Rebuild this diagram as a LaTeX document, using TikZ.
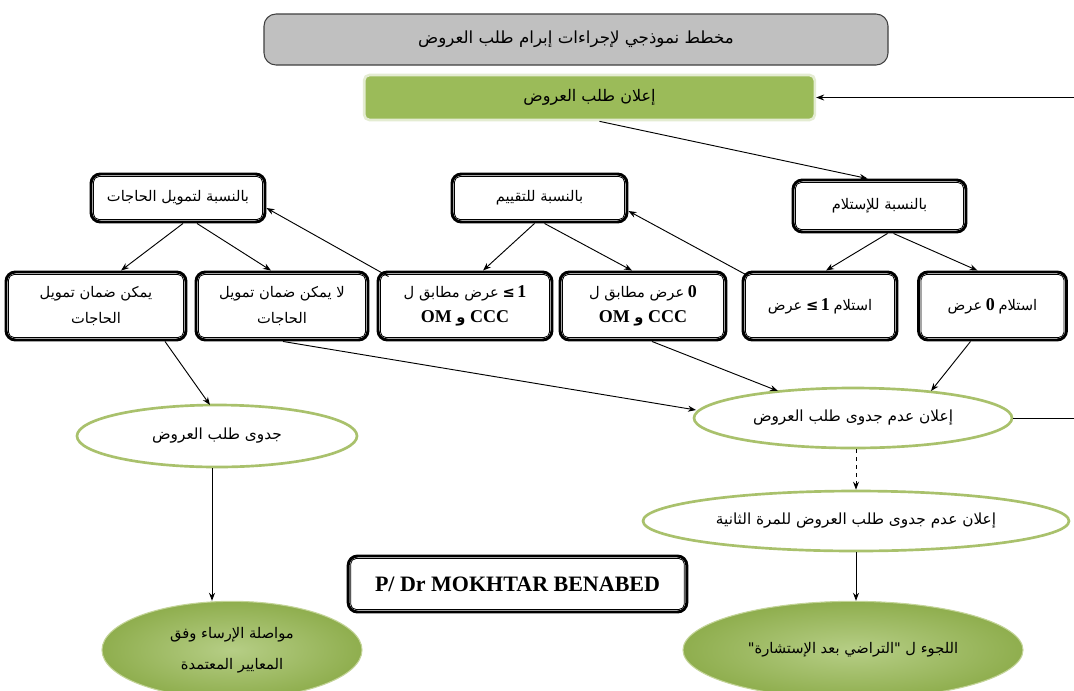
\documentclass[tikz,border=0pt]{standalone}
\usepackage{fontspec}
\setmainfont{Liberation Serif}
\newfontfamily\arabicfont[Script=Arabic]{DejaVu Sans}
\newfontfamily\symfont{DejaVu Sans}
\TeXXeTstate=1
\usetikzlibrary{shapes.geometric,arrows.meta,calc}
\newcommand\artxt[1]{{\arabicfont\beginR #1\endR}}
\definecolor{titlegray}{HTML}{C0C0C0}
\definecolor{titleline}{HTML}{404040}
\definecolor{boxgreen}{HTML}{9BBB59}
\definecolor{boxrim}{HTML}{E4ECD2}
\definecolor{ellgreen}{HTML}{A9C16C}
\definecolor{gin}{HTML}{B6CE86}
\definecolor{gout}{HTML}{8FAE4E}
\begin{document}
\begin{tikzpicture}[x=0.75pt,y=-0.75pt,
  dbox/.style={draw=black, line width=2.2pt, rounded corners=7pt, fill=white,
    align=center, inner sep=1pt, font=\fontsize{11}{19}\selectfont},
  ell/.style={ellipse, draw=ellgreen, line width=2pt, fill=white, inner sep=0pt,
    align=center, font=\fontsize{11.5}{14}\selectfont},
  gell/.style={ellipse, draw=ellgreen!70!white, line width=0.8pt, inner color=gin,
    outer color=gout, inner sep=0pt, align=center, font=\fontsize{11}{14}\selectfont},
  conn/.style={draw=black, line width=0.7pt, -{Stealth[length=6pt,width=4.5pt]}},
  plain/.style={draw=black, line width=0.7pt},
  inner/.style={line width=0.6pt, rounded corners=4pt}
]
\useasboundingbox (0,0) rectangle (1074,690);
\fill[white] (0,0) rectangle (1074,690);

% title and first step
\node[draw=titleline, line width=0.8pt, fill=titlegray, rounded corners=9pt,
  minimum width=468pt, minimum height=38.25pt, font=\fontsize{12.5}{14}\selectfont]
  (T) at (576,39.5) {\artxt{مخطط نموذجي لإجراءات إبرام طلب العروض}};
\node[draw=boxrim, line width=2pt, fill=boxgreen, rounded corners=4pt,
  minimum width=338pt, minimum height=33.75pt, font=\fontsize{12}{14}\selectfont]
  (G) at (589.5,97.5) {\artxt{إعلان طلب العروض}};

% row 1
\node[dbox, minimum width=130.5pt, minimum height=36pt] (A1) at (178,198)
  {\artxt{بالنسبة لتمويل الحاجات}};
\node[dbox, minimum width=131.25pt, minimum height=36pt] (A2) at (539.5,198)
  {\artxt{بالنسبة للتقييم}};
\node[dbox, minimum width=129.75pt, minimum height=39pt] (A3) at (879.5,206)
  {\artxt{بالنسبة للإستلام}};

% row 2
\node[dbox, minimum width=135pt, minimum height=51pt] (B1) at (96,306)
  {\artxt{يمكن ضمان تمويل}\\\artxt{الحاجات}};
\node[dbox, minimum width=129pt, minimum height=51pt] (B2) at (282,306)
  {\artxt{لا يمكن ضمان تمويل}\\\artxt{الحاجات}};
\node[dbox, minimum width=130.5pt, minimum height=51pt] (B3) at (465,306)
  {\artxt{عرض مطابق ل}\ {\symfont\bfseries ≤}\,{\fontsize{13.5}{19}\selectfont\bfseries 1}\\
   {\fontsize{13.5}{19}\selectfont\bfseries OM \artxt{\fontsize{11}{19}\selectfont و} CCC}};
\node[dbox, minimum width=124.5pt, minimum height=51pt] (B4) at (643,306)
  {\artxt{عرض مطابق ل}\ {\fontsize{13.5}{19}\selectfont\bfseries 0}\\
   {\fontsize{13.5}{19}\selectfont\bfseries OM \artxt{\fontsize{11}{19}\selectfont و} CCC}};
\node[dbox, minimum width=115.5pt, minimum height=51pt] (B5) at (820,306)
  {\artxt{عرض}\ {\symfont\bfseries ≤}\,{\fontsize{13.5}{19}\selectfont\bfseries 1}\ \artxt{استلام}};
\node[dbox, minimum width=111pt, minimum height=51pt] (B6) at (992.5,306)
  {\artxt{عرض}\ {\fontsize{13.5}{19}\selectfont\bfseries 0}\ \artxt{استلام}};

% ellipses
\node[ell, minimum width=210pt, minimum height=46.5pt] (E1) at (217,436)
  {\artxt{جدوى طلب العروض}};
\node[ell, minimum width=238.5pt, minimum height=45pt] (E2) at (853,418)
  {\artxt{إعلان عدم جدوى طلب العروض}};
\node[ell, minimum width=319.5pt, minimum height=45pt] (E3) at (856,521)
  {\artxt{إعلان عدم جدوى طلب العروض للمرة الثانية}};
\node[gell, minimum width=195pt, minimum height=73pt] (G1) at (232,650)
  {\artxt{مواصلة الإرساء وفق}\\[9pt]\artxt{المعايير المعتمدة}};
\node[gell, minimum width=255pt, minimum height=73pt] (G2) at (853,650)
  {\artxt{اللجوء ل "التراضي بعد الإستشارة"}};

% signature
\node[dbox, minimum width=254pt, minimum height=42pt, font=\fontsize{16.5}{18}\selectfont\bfseries]
  (S) at (517.5,584) {P/ Dr MOKHTAR BENABED};

\foreach \n in {A1,A2,A3,B1,B2,B3,B4,B5,B6,S}
  \draw[inner] ($(\n.north west)+(4,4)$) rectangle ($(\n.south east)+(-4,-4)$);

% free ends
\coordinate (R1) at (1074,97.5);
\coordinate (R2) at (1074,418);

% connectors
\draw[conn] (R1) -- (G.east);
\draw[conn] ($(G.south)+(10,0)$) -- ($(A3.north)+(-12,0)$);
\draw[conn] ($(A3.south)+(8,0)$) -- ($(B5.north)+(6,0)$);
\draw[conn] ($(A3.south)+(14,0)$) -- ($(B6.north)+(-15,0)$);
\draw[conn] ($(A2.south)+(-5,0)$) -- ($(B3.north)+(18,0)$);
\draw[conn] ($(A2.south)+(5,0)$) -- ($(B4.north)+(-11,0)$);
\draw[conn] ($(A1.south)+(5,0)$) -- ($(B1.north)+(25,0)$);
\draw[conn] ($(A1.south)+(19,0)$) -- ($(B2.north)+(-11,0)$);
\draw[conn] ($(B3.north west)+(12,6)$) -- ($(A1.east)+(0,10)$);
\draw[conn] ($(B5.north west)+(6,5)$) -- ($(A2.east)+(0,13)$);
\draw[conn] ($(B2.south)+(1,0)$) -- ($(E2.center)+(-157,-8)$);
\draw[conn] ($(B4.south)+(9,0)$) -- ($(E2.center)+(-75,-27)$);
\draw[conn] ($(B6.south)+(-22,0)$) -- ($(E2.center)+(78,-27)$);
\draw[conn] ($(B1.south)+(69,0)$) -- ($(E1.center)+(-7,-31)$);
\coordinate (L1) at ($(E1.south)+(-5,0)$);
\draw[conn] (L1) -- (L1 |- G1.north);
\coordinate (L2) at ($(E2.south)+(3,0)$);
\draw[conn, dashed] (L2) -- (L2 |- E3.north);
\draw[conn] (E3.south) -- (E3.south |- G2.north);
\draw[plain] (E2.east) -- (R2);
\end{tikzpicture}
\end{document}
